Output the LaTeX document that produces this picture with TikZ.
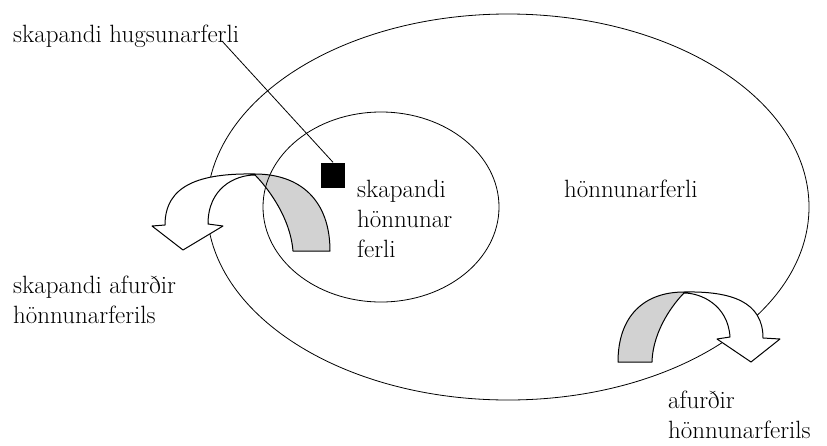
\documentclass[tikz,border=0pt]{standalone}
\usepackage{fontspec}
\usepackage{tikz}
\usetikzlibrary{shapes.geometric}
\definecolor{backgray}{RGB}{210,210,210}

\begin{document}
\begin{tikzpicture}[x=1pt, y=-1pt,
      lbl/.style={inner sep=0pt, align=left, font=\fontsize{25}{30}\selectfont},
      ring/.style={draw, ellipse, inner sep=0pt, line width=0.8pt},
      band/.style={draw, line width=1pt, line join=round}]
    \useasboundingbox (0,0) rectangle (827,445);
    \node[ring, minimum width=602pt, minimum height=386pt] (outer) at (508,207) {};
    \draw[band, fill=white] (255,174) .. controls (200,173) and (165,185) .. (165,225)
      -- (152,226) -- (183,250) -- (223,226) -- (208,224)
      .. controls (208,188) and (235,175) .. (255,175) -- cycle;
    \draw[band, fill=backgray] (255,174) .. controls (300,174) and (330,200) .. (330,251)
      -- (293,251) .. controls (290,215) and (265,185) .. (255,175) -- cycle;
    \draw[band, fill=white] (684,292) .. controls (732,291) and (763,302) .. (763,338)
      -- (780,339) -- (751,362) -- (717,339) -- (730,337)
      .. controls (728,305) and (701,293) .. (684,293) -- cycle;
    \draw[band, fill=backgray] (684,292) .. controls (644,292) and (618,316) .. (618,362)
      -- (652,362) .. controls (653,329) and (675,302) .. (684,293) -- cycle;
    \node[ring, minimum width=236pt, minimum height=190pt] (inner) at (381,207) {};
    \node[fill=black, inner sep=0pt, minimum width=24pt, minimum height=25pt] (sq) at (333,175) {};
    \node[lbl, anchor=base west] (think) at (13,42) {skapandi hugsunarferli};
    \coordinate (lead) at (222,41);
    \draw[line width=0.8pt] (lead) -- (sq.north);
    \node[lbl, anchor=north west] (cprod) at (13,275.6) {skapandi afurðir\\hönnunarferils};
    \node[lbl, anchor=north west] (cproc) at (357,179.6) {skapandi\\hönnunar\\ferli};
    \node[lbl, anchor=base west] (proc) at (564,197) {hönnunarferli};
    \node[lbl, anchor=north west] (prod) at (668,390.6) {afurðir\\hönnunarferils};
  \end{tikzpicture}
\end{document}
